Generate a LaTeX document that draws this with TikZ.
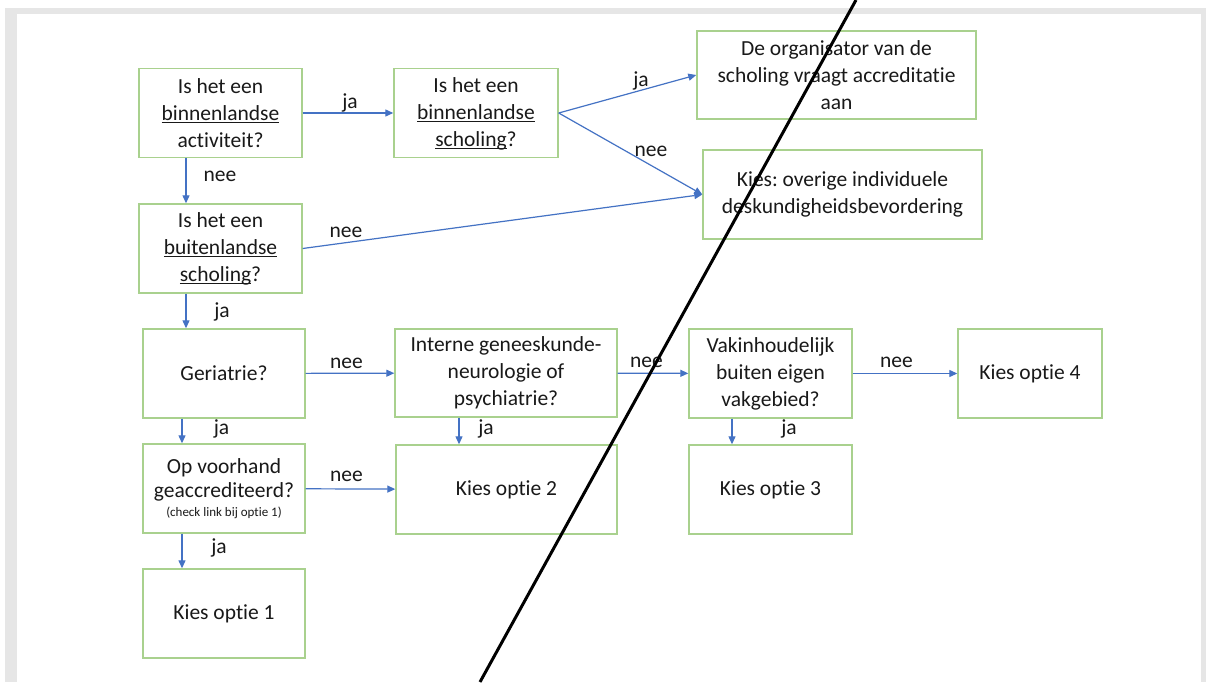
\documentclass[tikz,border=0pt]{standalone}
\usepackage{fontspec}
\setmainfont{Carlito}[Ligatures=NoCommon]
\usepackage{tikz}
\usetikzlibrary{
	arrows.meta,
	positioning
}
\definecolor{BoxGreen}{RGB}{169,209,142}
\definecolor{FlowBlue}{RGB}{68,114,196}
\definecolor{PageGray}{RGB}{230,230,230}
\definecolor{TextDark}{RGB}{25,25,25}
\newcommand{\ulword}[1]{\underline{\smash{#1}}}
\frenchspacing
\tikzset{
	box/.style={draw=BoxGreen, line width=1.4pt, align=center, inner sep=0pt,
		minimum width=163pt, minimum height=89pt, text=TextDark,
		font=\fontsize{21.5}{27}\selectfont},
	flow/.style={draw=FlowBlue, line width=1.2pt, -{Triangle[length=8pt,width=7pt]}},
	lbl/.style={anchor=base, inner sep=0pt, text=TextDark,
		font=\fontsize{21.5}{27}\selectfont}
}

\begin{document}
\begin{tikzpicture}[x=1pt, y=-1pt]
		\useasboundingbox (0,0) rectangle (1206,682);
		% page frame
		\fill[white] (0,0) rectangle (1206,682);
		\fill[PageGray] (5,8) rectangle (1206,682);
		\fill[white] (17,14) rectangle (1201,682);
		
		\node[box] (binact) at (220.5,113) {Is het een\\\ulword{binnenlandse}\\activiteit?};
		\node[box, minimum width=164pt] (binsch) at (476,113) {Is het een\\\ulword{binnenlandse}\\\ulword{scholing}?};
		\node[box, minimum width=279pt, minimum height=88pt] (organ) at (836.5,75) {De organisator van de\\scholing vraagt accreditatie\\aan};
		\node[box, minimum width=279pt] (overig) at (842.5,194.5) {Kies: overige individuele\\deskundigheidsbevordering};
		\node[box] (buisch) at (220.5,248.5) {Is het een\\\ulword{buitenlandse}\\\ulword{scholing}?};
		\node[box, minimum width=162pt] (geri) at (224,373.5) {Geriatrie?};
		\node[box, minimum width=222pt, minimum height=88pt] (intern) at (506,373) {Interne geneeskunde-\\neurologie of\\psychiatrie?};
		\node[box] (vakin) at (770.5,373.5) {Vakinhoudelijk\\buiten eigen\\vakgebied?};
		\node[box, minimum width=144pt] (opt4) at (1030,373.5) {Kies optie 4};
		\node[box, minimum width=162pt] (vooraf) at (224,488.5) {Op voorhand\\[-3.5pt]geaccrediteerd?\\[-8pt]{\fontsize{13}{15}\selectfont (check link bij optie 1)}};
		\node[box, minimum width=221pt] (opt2) at (506.5,489.5) {Kies optie 2};
		\node[box] (opt3) at (770.5,489.5) {Kies optie 3};
		\node[box, minimum width=162pt] (opt1) at (224,613.5) {Kies optie 1};
		
		\draw[flow] (binact) -- (binsch);
		\draw[flow] (binact.south -| 186,0) -- (buisch.north -| 186,0);
		\draw[flow] (binsch.east) -- (organ.west);
		\draw[flow] (binsch.east) -- (overig.west);
		\draw[flow] (buisch.east) -- (overig.west);
		\draw[flow] (buisch.south -| 186,0) -- (geri.north -| 186,0);
		\draw[flow] (geri) -- (intern);
		\draw[flow] (geri.south -| 182,0) -- (vooraf.north -| 182,0);
		\draw[flow] (intern.south -| 459,0) -- (opt2.north -| 459,0);
		\draw[flow] (intern) -- (vakin);
		\draw[flow] (vakin) -- (opt4);
		\draw[flow] (vakin.south -| 732,0) -- (opt3.north -| 732,0);
		\draw[flow] (vooraf) -- (opt2);
		\draw[flow] (vooraf.south -| 182,0) -- (opt1.north -| 182,0);
		
		\node[lbl] (jaBinact) at (350,109) {ja};
		\node[lbl] (neeBinact) at (220,181.5) {nee};
		\node[lbl] (jaBinsch) at (641,87) {ja};
		\node[lbl] (neeBinsch) at (651,156) {nee};
		\node[lbl] (neeBuisch) at (346,237) {nee};
		\node[lbl] (jaBuisch) at (222,317) {ja};
		\node[lbl] (neeGeri) at (346.5,368) {nee};
		\node[lbl] (jaGeri) at (221.5,434) {ja};
		\node[lbl] (jaIntern) at (486,434) {ja};
		\node[lbl] (neeIntern) at (646.5,367) {nee};
		\node[lbl] (neeVooraf) at (346.5,481) {nee};
		\node[lbl] (jaVooraf) at (219,553) {ja};
		\node[lbl] (jaVakin) at (789,434) {ja};
		\node[lbl] (neeVakin) at (896.5,367) {nee};
		
		% stroke over the page
		\draw[line width=3pt, black] (856,0) -- (480,682);
	\end{tikzpicture}
\end{document}
